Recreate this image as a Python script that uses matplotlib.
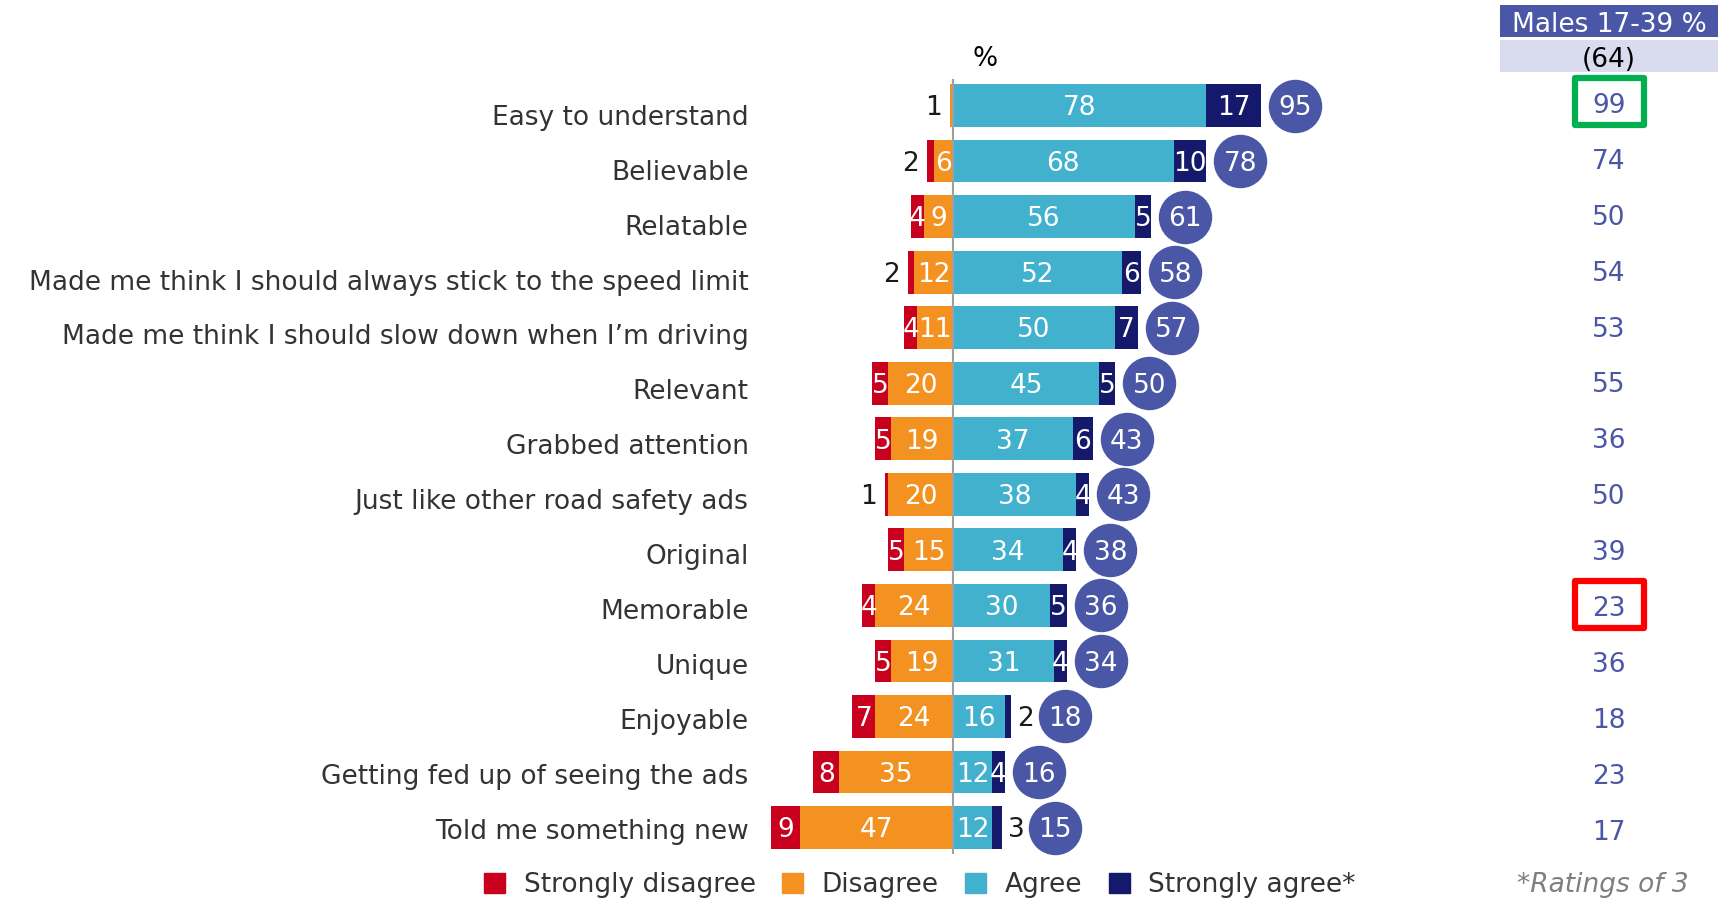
import numpy as np
import matplotlib.pyplot as plt
import matplotlib.transforms as mtransforms
from matplotlib.patches import Rectangle, Patch

# -------------------------------
# Data
# -------------------------------
categories = [
    "Easy to understand",
    "Believable",
    "Relatable",
    "Made me think I should always stick to the speed limit",
    "Made me think I should slow down when I\u2019m driving",
    "Relevant",
    "Grabbed attention",
    "Just like other road safety ads",
    "Original",
    "Memorable",
    "Unique",
    "Enjoyable",
    "Getting fed up of seeing the ads",
    "Told me something new",
]
strongly_disagree = [0, 2, 4, 2, 4, 5, 5, 1, 5, 4, 5, 7, 8, 9]
disagree = [1, 6, 9, 12, 11, 20, 19, 20, 15, 24, 19, 24, 35, 47]
agree = [78, 68, 56, 52, 50, 45, 37, 38, 34, 30, 31, 16, 12, 12]
strongly_agree = [17, 10, 5, 6, 7, 5, 6, 4, 4, 5, 4, 2, 4, 3]
net_agree = [95, 78, 61, 58, 57, 50, 43, 43, 38, 36, 34, 18, 16, 15]
males_17_39 = [99, 74, 50, 54, 53, 55, 36, 50, 39, 23, 36, 18, 23, 17]
males_base = 64
highlight_good = 0   # row boxed in green
highlight_bad = 9    # row boxed in red

# -------------------------------
# Styles
# -------------------------------
RED = "#C8001E"
ORANGE = "#F39220"
CYAN = "#41B1CE"
NAVY = "#15196B"
CIRCLE = "#4A56A6"
TEXT = "#333333"
FS = 19

plt.rcParams["font.family"] = ["DejaVu Sans"]

W, H = 1726, 898
zero_px = 953          # pixel position of the 0 line
px_per_unit = 3.245    # pixels per percentage point
row0_px = 105.5        # first row centre
row_px = 55.54         # row spacing
n = len(categories)

fig = plt.figure(figsize=(W / 100, H / 100), dpi=100)
ax = fig.add_axes([0, 0, 1, 1])
ax.axis("off")
ax.set_xlim(-zero_px / px_per_unit, (W - zero_px) / px_per_unit)
ax.set_ylim((H - row0_px) / row_px, -row0_px / row_px)

y = np.arange(n)
sd = np.array(strongly_disagree)
d = np.array(disagree)
a = np.array(agree)
sa = np.array(strongly_agree)

bh = 0.77
ax.barh(y, -d, left=0, height=bh, color=ORANGE, zorder=2)
ax.barh(y, -sd, left=-d, height=bh, color=RED, zorder=2)
ax.barh(y, a, left=0, height=bh, color=CYAN, zorder=2)
ax.barh(y, sa, left=a, height=bh, color=NAVY, zorder=2)

# zero line
ax.plot([0, 0], [-0.46, 13.46], color="#A0A0A0", lw=1.5, zorder=3)

ty = 0.05  # small nudge so numbers sit on the bar centre


def seg_label(val, left, width, yi, side):
    if val == 0:
        return
    if val <= 3:
        if side == "left":
            ax.text(left - 2.5, yi + ty, str(val), ha="right", va="center",
                    fontsize=FS, color="#1A1A1A", zorder=4)
        else:
            ax.text(left + width + 1.8, yi + ty, str(val), ha="left", va="center",
                    fontsize=FS, color="#1A1A1A", zorder=4)
    else:
        ax.text(left + width / 2, yi + ty, str(val), ha="center", va="center",
                fontsize=FS, color="white", zorder=4)


for i, yi in enumerate(y):
    seg_label(sd[i], -d[i] - sd[i], sd[i], yi, "left")
    if sd[i] == 0 or d[i] > 3:
        seg_label(d[i], -d[i], d[i], yi, "left")
    seg_label(a[i], 0, a[i], yi, "right")
    seg_label(sa[i], a[i], sa[i], yi, "right")

    # net agree circle
    offset = 16.5 if sa[i] <= 3 else 10.5
    cx = a[i] + sa[i] + offset
    ax.scatter([cx], [yi], s=1480, color=CIRCLE, zorder=3, linewidths=0)
    ax.text(cx, yi + ty, str(net_agree[i]), ha="center", va="center",
            fontsize=FS, color="white", zorder=4)

    # category label
    ax.text(-63, yi + 0.08 + 0.14 * (1 - i / (n - 1)), categories[i],
            ha="right", va="center", fontsize=FS, color=TEXT)

ax.text(10, -0.84, "%", ha="center", va="center", fontsize=FS, color="black")

# -------------------------------
# Right hand column: Males 17-39
# -------------------------------
trans = mtransforms.blended_transform_factory(ax.transAxes, ax.transData)
col_x = 1609 / W

ax.add_patch(Rectangle((1500 / W, 1 - 37 / H), 218 / W, 32 / H,
                       transform=ax.transAxes, color=CIRCLE, lw=0))
ax.add_patch(Rectangle((1500 / W, 1 - 72 / H), 218 / W, 32 / H,
                       transform=ax.transAxes, color="#D9DCEE", lw=0))
ax.text(col_x, 1 - 24.5 / H, "Males 17-39 %", transform=ax.transAxes,
        ha="center", va="center", fontsize=FS, color="white")
ax.text(col_x, 1 - 60 / H, f"({males_base})", transform=ax.transAxes,
        ha="center", va="center", fontsize=FS, color="black")

val_rows = [(0.5 + 55.9 * i) / row_px for i in range(n)]
for i in range(n):
    ax.text(col_x, val_rows[i], str(males_17_39[i]), transform=trans,
            ha="center", va="center", fontsize=FS, color=CIRCLE)

box_w = 69 / W
box_h = 0.85
for idx, col in [(highlight_good, "#00B050"), (highlight_bad, "#FF0000")]:
    cy = val_rows[idx] - 0.08
    ax.add_patch(Rectangle((col_x - box_w / 2, cy - box_h / 2), box_w, box_h,
                           transform=trans, fill=False, edgecolor=col,
                           lw=4.5, joinstyle="round", zorder=5))

ax.text(1603 / W, 1 - 885 / H, "*Ratings of 3", transform=ax.transAxes,
        ha="center", va="center", fontsize=FS, color="#7F7F7F", style="italic")

# -------------------------------
# Legend
# -------------------------------
handles = [Patch(color=RED, label="Strongly disagree"),
           Patch(color=ORANGE, label="Disagree"),
           Patch(color=CYAN, label="Agree"),
           Patch(color=NAVY, label="Strongly agree*")]
leg = fig.legend(handles=handles, loc="center", ncol=4,
                 bbox_to_anchor=(920 / W, 1 - 885 / H), frameon=False,
                 fontsize=FS, handlelength=0.8, handleheight=0.8,
                 handletextpad=0.7, columnspacing=1.0, borderpad=0)
for t in leg.get_texts():
    t.set_color(TEXT)

fig.savefig("out.png", dpi=100)
